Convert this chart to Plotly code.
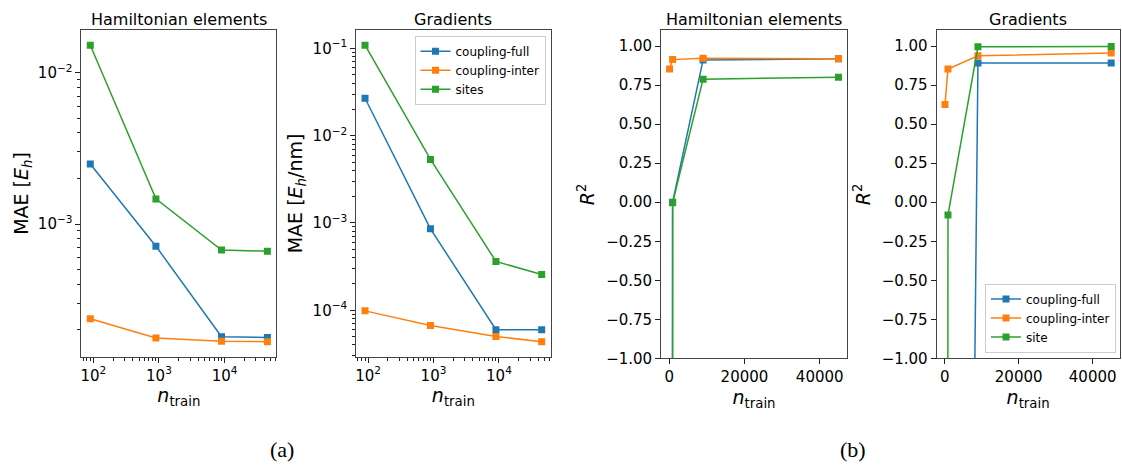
import plotly.graph_objects as go

# Training set sizes
n_train = [90, 900, 9000, 45000]

# Mean absolute errors, Hamiltonian elements [E_h]
mae_ham_full = [2.49e-3, 7.14e-4, 1.80e-4, 1.78e-4]
mae_ham_inter = [2.37e-4, 1.77e-4, 1.68e-4, 1.67e-4]
mae_ham_sites = [1.517e-2, 1.466e-3, 6.73e-4, 6.62e-4]

# Mean absolute errors, gradients [E_h/nm]
mae_grad_full = [2.69e-2, 8.57e-4, 5.98e-5, 5.97e-5]
mae_grad_inter = [9.84e-5, 6.7e-5, 5.0e-5, 4.37e-5]
mae_grad_sites = [0.109, 5.35e-3, 3.63e-4, 2.57e-4]

# Coefficients of determination
r2_ham_full = [-60.0, 0.0, 0.911, 0.918]
r2_ham_inter = [0.853, 0.913, 0.922, 0.918]
r2_ham_sites = [-45.0, -0.003, 0.788, 0.800]

r2_grad_full = [-25.0, -17.5, 0.891, 0.891]
r2_grad_inter = [0.625, 0.853, 0.938, 0.955]
r2_grad_site = [-30.0, -0.082, 0.995, 0.997]

series_names_a = ["coupling-full", "coupling-inter", "sites"]
series_names_b = ["coupling-full", "coupling-inter", "site"]
colors = ["#1f77b4", "#ff7f0e", "#2ca02c"]

log_x_ticks = [100, 1000, 10000]
log_x_text = ["10<sup>2</sup>", "10<sup>3</sup>", "10<sup>4</sup>"]
ham_y_ticks = [1e-3, 1e-2]
ham_y_text = ["10<sup>\u22123</sup>", "10<sup>\u22122</sup>"]
grad_y_ticks = [1e-4, 1e-3, 1e-2, 1e-1]
grad_y_text = ["10<sup>\u22124</sup>", "10<sup>\u22123</sup>", "10<sup>\u22122</sup>", "10<sup>\u22121</sup>"]
lin_x_ticks = [0, 20000, 40000]
lin_x_text = ["0", "20000", "40000"]
r2_ticks = [-1.0, -0.75, -0.5, -0.25, 0.0, 0.25, 0.5, 0.75, 1.0]
r2_text = [("\u2212" if v < 0 else "") + f"{abs(v):.2f}" for v in r2_ticks]

W, H = 1122, 468
FONT = "DejaVu Sans"
TICK_FONT = dict(family=FONT, size=15, color="black")
LABEL_FONT = dict(family=FONT, size=19, color="black")


def px_x(a, b):
    return [a / W, b / W]


def px_y(top, bottom):
    return [1 - bottom / H, 1 - top / H]


fig = go.Figure()

panels = [
    ("x", "y", [mae_ham_full, mae_ham_inter, mae_ham_sites], series_names_a, None),
    ("x2", "y2", [mae_grad_full, mae_grad_inter, mae_grad_sites], series_names_a, "legend"),
    ("x3", "y3", [r2_ham_full, r2_ham_inter, r2_ham_sites], series_names_a, None),
    ("x4", "y4", [r2_grad_full, r2_grad_inter, r2_grad_site], series_names_b, "legend2"),
]

for xa, ya, series, names, leg in panels:
    for vals, name, col in zip(series, names, colors):
        fig.add_trace(go.Scatter(
            x=n_train, y=vals, name=name, mode="lines+markers",
            xaxis=xa, yaxis=ya,
            line=dict(color=col, width=1.5),
            marker=dict(symbol="square", size=7, color=col),
            showlegend=leg is not None,
            legend=leg if leg else "legend",
        ))

common = dict(
    showline=True, linecolor="#444444", linewidth=1, mirror=True,
    ticks="outside", ticklen=5, tickwidth=1, tickcolor="#222222",
    showgrid=False, zeroline=False, tickfont=TICK_FONT,
    tickmode="array",
)
minor_log = dict(ticks="outside", ticklen=3, tickwidth=1, tickcolor="#222222",
                 dtick="D1", showgrid=False)

xt = dict(text="<i>n</i><sub>train</sub>", font=LABEL_FONT, standoff=5)

fig.update_layout(
    width=W, height=H,
    margin=dict(l=0, r=0, t=0, b=0),
    paper_bgcolor="white", plot_bgcolor="white",
    font=dict(family=FONT, color="black"),
    xaxis=dict(common, type="log", domain=px_x(80.5, 275.5), range=[1.819, 4.788],
               tickvals=log_x_ticks, ticktext=log_x_text, minor=minor_log,
               anchor="y", title=xt),
    yaxis=dict(common, type="log", domain=px_y(31, 363.5), range=[-3.875, -1.721],
               tickvals=ham_y_ticks, ticktext=ham_y_text, minor=minor_log,
               anchor="x", title=dict(text="MAE [<i>E<sub>h</sub></i>]", font=LABEL_FONT, standoff=4)),
    xaxis2=dict(common, type="log", domain=px_x(355.5, 550), range=[1.819, 4.788],
                tickvals=log_x_ticks, ticktext=log_x_text, minor=minor_log,
                anchor="y2", title=xt),
    yaxis2=dict(common, type="log", domain=px_y(31, 363.5), range=[-4.53, -0.793],
                tickvals=grad_y_ticks, ticktext=grad_y_text, minor=minor_log,
                anchor="x2", title=dict(text="MAE [<i>E<sub>h</sub></i>/nm]", font=LABEL_FONT, standoff=4)),
    xaxis3=dict(common, domain=px_x(660.7, 846.7), range=[-2156, 47246],
                tickvals=lin_x_ticks, ticktext=lin_x_text, anchor="y3", title=xt),
    yaxis3=dict(common, domain=px_y(31, 365.5), range=[-1.0, 1.1],
                tickvals=r2_ticks, ticktext=r2_text, anchor="x3",
                title=dict(text="<i>R</i><sup>2</sup>", font=LABEL_FONT, standoff=6)),
    xaxis4=dict(common, domain=px_x(936.5, 1119.5), range=[-2156, 47246],
                tickvals=lin_x_ticks, ticktext=lin_x_text, anchor="y4", title=xt),
    yaxis4=dict(common, domain=px_y(31, 365.5), range=[-1.0, 1.1],
                tickvals=r2_ticks, ticktext=r2_text, anchor="x4",
                title=dict(text="<i>R</i><sup>2</sup>", font=LABEL_FONT, standoff=6)),
    legend=dict(x=545 / W, y=1 - 36.5 / H, xanchor="right", yanchor="top",
                bgcolor="white", bordercolor="#cccccc", borderwidth=1,
                font=dict(family=FONT, size=12, color="black"),
                itemwidth=30, tracegroupgap=0),
    legend2=dict(x=1116 / W, y=1 - 359.5 / H, xanchor="right", yanchor="bottom",
                 bgcolor="white", bordercolor="#cccccc", borderwidth=1,
                 font=dict(family=FONT, size=12, color="black"),
                 itemwidth=30, tracegroupgap=0),
)

# Panel titles
titles = [("Hamiltonian elements", 80.5, 275.5), ("Gradients", 355.5, 550),
          ("Hamiltonian elements", 660.7, 846.7), ("Gradients", 936.5, 1119.5)]
for text, a, b in titles:
    fig.add_annotation(text=text, x=(a + b) / 2 / W, y=1 - 31.5 / H, xref="paper", yref="paper",
                       xanchor="center", yanchor="bottom", showarrow=False,
                       font=dict(family=FONT, size=16, color="black"))

# Sub-figure captions
for text, cx in [("(a)", 281), ("(b)", 853)]:
    fig.add_annotation(text=text, x=cx / W, y=1 - 458 / H, xref="paper", yref="paper",
                       xanchor="center", yanchor="middle", showarrow=False,
                       font=dict(family="Liberation Serif", size=22, color="black"))

fig.write_html("out.html")
